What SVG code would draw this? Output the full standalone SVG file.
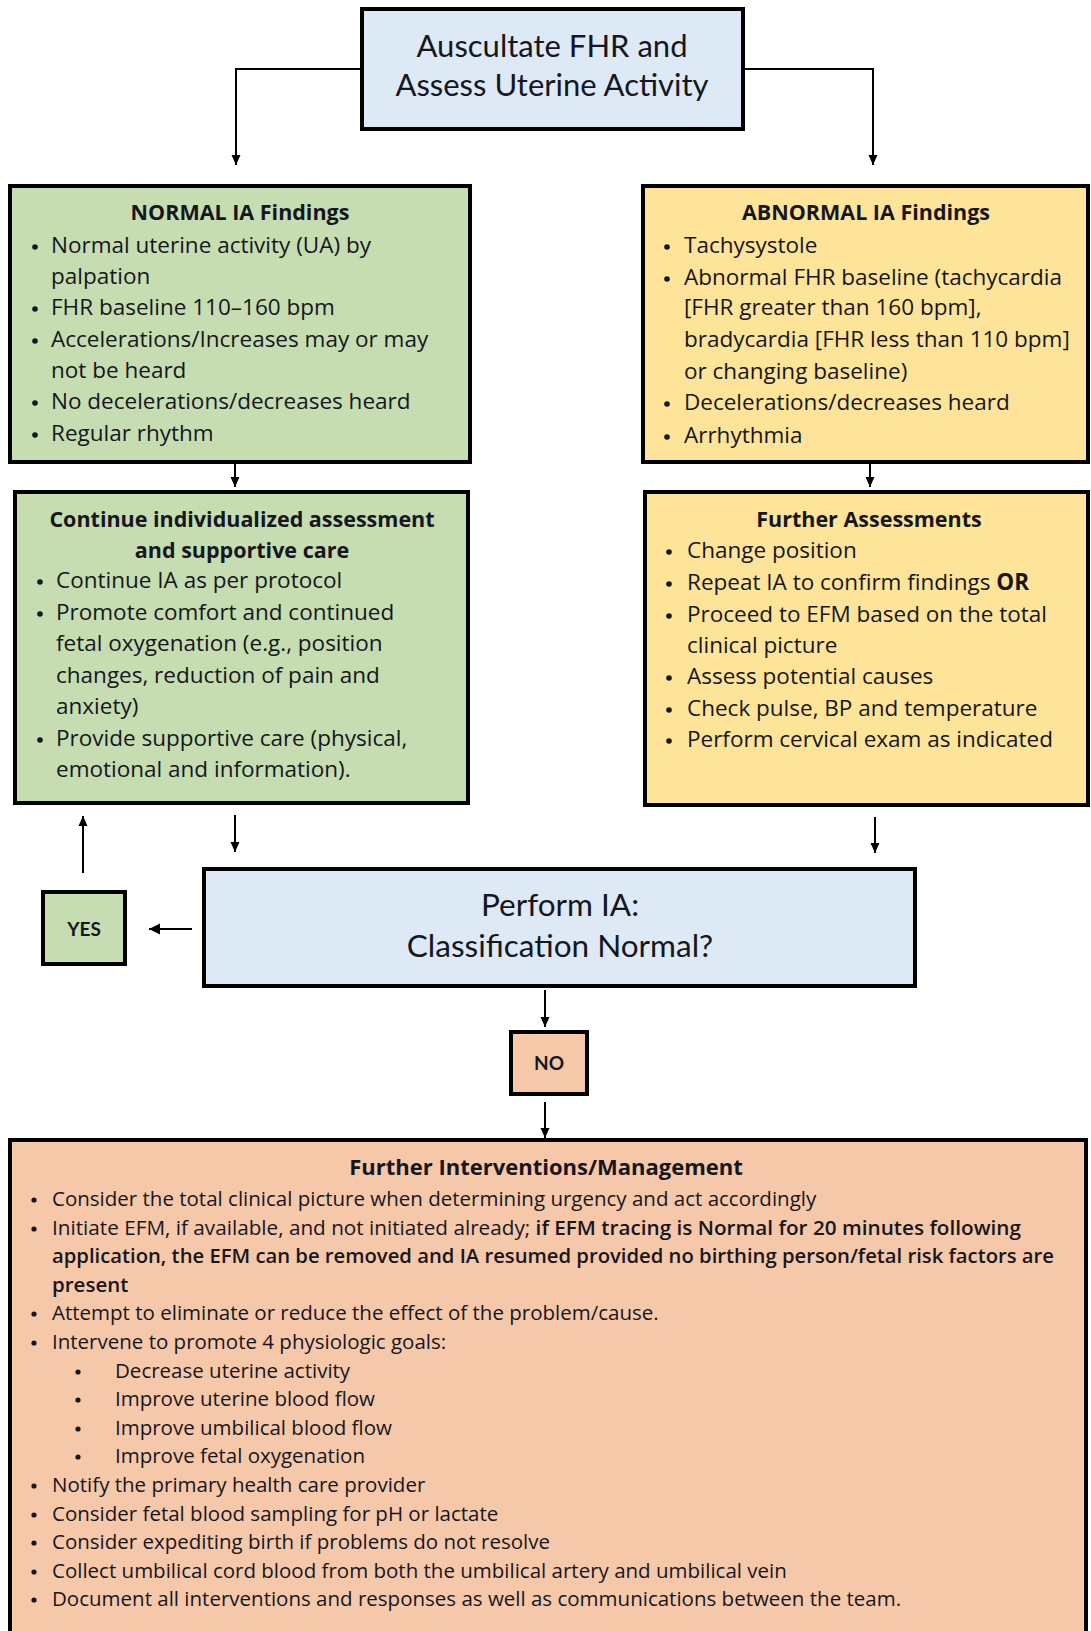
<svg xmlns="http://www.w3.org/2000/svg" width="1091" height="1631" viewBox="0 0 1091 1631">
<defs>
<marker id="ah" markerWidth="12" markerHeight="12" refX="10" refY="6" orient="auto" markerUnits="userSpaceOnUse"><path d="M0,1.5 L10,6 L0,10.5 Z" fill="#000"/></marker>
<marker id="ahb" markerWidth="14" markerHeight="14" refX="11" refY="7" orient="auto" markerUnits="userSpaceOnUse"><path d="M0,1.5 L11,7 L0,12.5 Z" fill="#000"/></marker>
</defs>
<style>
text{font-family:"Open Sans",Lato,"Liberation Sans",sans-serif;fill:#16161f}
.box{stroke:#000;stroke-width:4}
.blue{fill:#DDE9F5}.green{fill:#C5DDB0}.yellow{fill:#FDE499}.peach{fill:#F5C8A9}
.big{font-family:Lato,"Open Sans",sans-serif;font-size:31px}
.perf{font-family:Lato,"Open Sans",sans-serif;font-size:31.5px}
.ttl{font-size:21.5px;font-weight:bold;text-anchor:middle}
.b{font-size:22.5px}
.s{font-size:20.5px}
.sb{font-weight:600}
.st{font-size:22px;font-weight:bold;text-anchor:middle}
.yn{font-family:Lato,"Open Sans",sans-serif;font-size:19px;font-weight:bold;text-anchor:middle}
.c{text-anchor:middle}
.dot{fill:#16161f}
.con{stroke:#000;stroke-width:2;fill:none}
</style>
<rect width="1091" height="1631" fill="#fff"/>

<g id="connectors">
<path class="con" d="M362,69 H236 V165" marker-end="url(#ah)"/>
<path class="con" d="M743,69 H873 V165" marker-end="url(#ah)"/>
<path class="con" d="M235,448 V487" marker-end="url(#ah)"/>
<path class="con" d="M870,450 V487" marker-end="url(#ah)"/>
<path class="con" d="M83,873 V816" marker-end="url(#ah)"/>
<path class="con" d="M235,815 V852" marker-end="url(#ah)"/>
<path class="con" d="M875,817 V853" marker-end="url(#ah)"/>
<path class="con" d="M192,929 H149" stroke-width="3" marker-end="url(#ahb)"/>
<path class="con" d="M545,990 V1027" marker-end="url(#ah)"/>
<path class="con" d="M545,1102 V1138" marker-end="url(#ah)"/>
</g>

<g id="n-auscultate">
<rect class="box blue" x="362" y="9" width="381" height="120"/>
<text class="big c" x="552" y="57">Auscultate FHR and</text>
<text class="big c" x="552" y="96">Assess Uterine Activity</text>
</g>

<g id="n-normal">
<rect class="box green" x="10" y="186" width="460" height="276"/>
<text class="ttl" x="240" y="220">NORMAL IA Findings</text>
<g class="dot"><circle cx="35" cy="247" r="2.8"/><circle cx="35" cy="309" r="2.8"/><circle cx="35" cy="341" r="2.8"/><circle cx="35" cy="403" r="2.8"/><circle cx="35" cy="435" r="2.8"/></g>
<g class="b">
<text x="51" y="253">Normal uterine activity (UA) by</text>
<text x="51" y="284">palpation</text>
<text x="51" y="315">FHR baseline 110–160 bpm</text>
<text x="51" y="347">Accelerations/Increases may or may</text>
<text x="51" y="378">not be heard</text>
<text x="51" y="409">No decelerations/decreases heard</text>
<text x="51" y="441">Regular rhythm</text>
</g>
</g>

<g id="n-abnormal">
<rect class="box yellow" x="643" y="186" width="445" height="276"/>
<text class="ttl" x="866" y="220">ABNORMAL IA Findings</text>
<g class="dot"><circle cx="667" cy="247" r="2.8"/><circle cx="667" cy="279" r="2.8"/><circle cx="667" cy="404" r="2.8"/><circle cx="667" cy="437" r="2.8"/></g>
<g class="b">
<text x="684" y="253">Tachysystole</text>
<text x="684" y="285">Abnormal FHR baseline (tachycardia</text>
<text x="684" y="315">[FHR greater than 160 bpm],</text>
<text x="684" y="347">bradycardia [FHR less than 110 bpm]</text>
<text x="684" y="379">or changing baseline)</text>
<text x="684" y="410">Decelerations/decreases heard</text>
<text x="684" y="443">Arrhythmia</text>
</g>
</g>

<g id="n-continue">
<rect class="box green" x="15" y="492" width="453" height="311"/>
<text class="ttl" x="242" y="527">Continue individualized assessment</text>
<text class="ttl" x="242" y="558">and supportive care</text>
<g class="dot"><circle cx="40" cy="582" r="2.8"/><circle cx="40" cy="614" r="2.8"/><circle cx="40" cy="740" r="2.8"/></g>
<g class="b">
<text x="56" y="588">Continue IA as per protocol</text>
<text x="56" y="620">Promote comfort and continued</text>
<text x="56" y="651">fetal oxygenation (e.g., position</text>
<text x="56" y="683">changes, reduction of pain and</text>
<text x="56" y="714">anxiety)</text>
<text x="56" y="746">Provide supportive care (physical,</text>
<text x="56" y="777">emotional and information).</text>
</g>
</g>

<g id="n-further-assess">
<rect class="box yellow" x="645" y="492" width="443" height="313"/>
<text class="ttl" x="869" y="527">Further Assessments</text>
<g class="dot"><circle cx="669" cy="552" r="2.8"/><circle cx="669" cy="584" r="2.8"/><circle cx="669" cy="616" r="2.8"/><circle cx="669" cy="678" r="2.8"/><circle cx="669" cy="710" r="2.8"/><circle cx="669" cy="741" r="2.8"/></g>
<g class="b">
<text x="687" y="558">Change position</text>
<text x="687" y="590">Repeat IA to confirm findings <tspan font-weight="bold">OR</tspan></text>
<text x="687" y="622">Proceed to EFM based on the total</text>
<text x="687" y="653">clinical picture</text>
<text x="687" y="684">Assess potential causes</text>
<text x="687" y="716">Check pulse, BP and temperature</text>
<text x="687" y="747">Perform cervical exam as indicated</text>
</g>
</g>

<g id="n-perform">
<rect class="box blue" x="204" y="869" width="711" height="117"/>
<text class="perf c" x="560" y="916">Perform IA:</text>
<text class="perf c" x="560" y="957">Classification Normal?</text>
</g>

<g id="n-yes">
<rect class="box green" x="43" y="892" width="82" height="72"/>
<text class="yn" x="84" y="936">YES</text>
</g>

<g id="n-no">
<rect class="box peach" x="511" y="1032" width="76" height="62"/>
<text class="yn" x="549" y="1070">NO</text>
</g>

<g id="n-interventions">
<rect class="box peach" x="10" y="1140" width="1076" height="510"/>
<text class="st" x="546" y="1175">Further Interventions/Management</text>
<g class="dot">
<circle cx="34" cy="1200" r="2.6"/><circle cx="34" cy="1229" r="2.6"/><circle cx="34" cy="1314" r="2.6"/><circle cx="34" cy="1343" r="2.6"/>
<circle cx="78" cy="1372" r="2.6"/><circle cx="78" cy="1400" r="2.6"/><circle cx="78" cy="1429" r="2.6"/><circle cx="78" cy="1457" r="2.6"/>
<circle cx="34" cy="1486" r="2.6"/><circle cx="34" cy="1515" r="2.6"/><circle cx="34" cy="1543" r="2.6"/><circle cx="34" cy="1572" r="2.6"/><circle cx="34" cy="1600" r="2.6"/>
</g>
<g class="s">
<text x="52" y="1206">Consider the total clinical picture when determining urgency and act accordingly</text>
<text x="52" y="1235" textLength="969" lengthAdjust="spacingAndGlyphs">Initiate EFM,  if available, and not initiated already; <tspan class="sb">if EFM tracing is Normal for 20 minutes following</tspan></text>
<text x="52" y="1263" class="sb" textLength="1002" lengthAdjust="spacingAndGlyphs">application, the EFM can be removed and IA resumed provided no birthing person/fetal risk factors are</text>
<text x="52" y="1292" class="sb">present</text>
<text x="52" y="1320">Attempt to eliminate or reduce the effect of the problem/cause.</text>
<text x="52" y="1349">Intervene to promote 4 physiologic goals:</text>
<text x="115" y="1378">Decrease uterine activity</text>
<text x="115" y="1406">Improve uterine blood flow</text>
<text x="115" y="1435">Improve umbilical blood flow</text>
<text x="115" y="1463">Improve fetal oxygenation</text>
<text x="52" y="1492">Notify the primary health care provider</text>
<text x="52" y="1521">Consider fetal blood sampling for pH or lactate</text>
<text x="52" y="1549">Consider expediting birth if problems do not resolve</text>
<text x="52" y="1578">Collect umbilical cord blood from both the umbilical artery and umbilical vein</text>
<text x="52" y="1606">Document all interventions and responses as well as communications between the team.</text>
</g>
</g>
</svg>
